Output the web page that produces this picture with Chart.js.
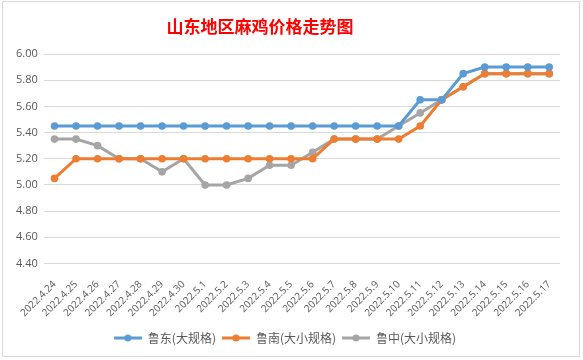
<!DOCTYPE html>
<html>
<head>
<meta charset="utf-8">
<script src="https://cdn.jsdelivr.net/npm/chart.js@4/dist/chart.umd.min.js"></script>
<style>
  html, body { margin: 0; padding: 0; background: #fff; }
  #wrap { position: relative; width: 583px; height: 360px; }
  #frame { position: absolute; left: 2px; top: 1px; width: 578px; height: 356px; border: 1px solid #d9d9d9; box-sizing: border-box; pointer-events: none; }
  #title { position: absolute; left: 0; top: 15px; width: 520px; text-align: center; color: #ff0000;
           font-family: "Noto Sans CJK SC", sans-serif; font-size: 17px; font-weight: bold; line-height: 22px; }
  canvas { position: absolute; left: 0; top: 0; }
</style>
</head>
<body>
<div id="wrap">
  <canvas id="chart" width="583" height="360"></canvas>
  <div id="frame"></div>
  <div id="title">山东地区麻鸡价格走势图</div>
</div>
<script>
const dates = ['2022.4.24', '2022.4.25', '2022.4.26', '2022.4.27', '2022.4.28', '2022.4.29', '2022.4.30',
  '2022.5.1', '2022.5.2', '2022.5.3', '2022.5.4', '2022.5.5', '2022.5.6', '2022.5.7', '2022.5.8',
  '2022.5.9', '2022.5.10', '2022.5.11', '2022.5.12', '2022.5.13', '2022.5.14', '2022.5.15', '2022.5.16', '2022.5.17'];

const ludong = [5.45, 5.45, 5.45, 5.45, 5.45, 5.45, 5.45, 5.45, 5.45, 5.45, 5.45, 5.45,
  5.45, 5.45, 5.45, 5.45, 5.45, 5.65, 5.65, 5.85, 5.90, 5.90, 5.90, 5.90];
const lunan = [5.05, 5.20, 5.20, 5.20, 5.20, 5.20, 5.20, 5.20, 5.20, 5.20, 5.20, 5.20,
  5.20, 5.35, 5.35, 5.35, 5.35, 5.45, 5.65, 5.75, 5.85, 5.85, 5.85, 5.85];
const luzhong = [5.35, 5.35, 5.30, 5.20, 5.20, 5.10, 5.20, 5.00, 5.00, 5.05, 5.15, 5.15,
  5.25, 5.35, 5.35, 5.35, 5.45, 5.55, 5.65, 5.75, 5.85, 5.85, 5.85, 5.85];

const seriesNames = ['鲁东(大规格)', '鲁南(大小规格)', '鲁中(大小规格)'];
const colors = ['#5b9bd5', '#ed7d31', '#a5a5a5'];

// little line-with-dot marker for the legend
function legendMarker(color) {
  const c = document.createElement('canvas');
  c.width = 28; c.height = 10;
  const g = c.getContext('2d');
  g.strokeStyle = color;
  g.lineWidth = 3;
  g.beginPath(); g.moveTo(0, 5); g.lineTo(28, 5); g.stroke();
  g.fillStyle = color;
  g.beginPath(); g.arc(14, 5, 3.5, 0, Math.PI * 2); g.fill();
  return c;
}

const datasets = [ludong, lunan, luzhong].map((vals, i) => ({
  label: seriesNames[i],
  data: vals,
  borderColor: colors[i],
  backgroundColor: colors[i],
  borderWidth: 3,
  pointRadius: 3.8,
  pointHoverRadius: 3.8,
  pointBorderWidth: 0,
  pointStyle: 'circle',
  tension: 0
}));

new Chart(document.getElementById('chart'), {
  type: 'line',
  data: { labels: dates, datasets: datasets },
  options: {
    responsive: false,
    animation: false,
    layout: { padding: { left: 10, right: 23, top: 54, bottom: 6 } },
    plugins: {
      title: { display: false },
      tooltip: { enabled: false },
      legend: {
        position: 'bottom',
        labels: {
          usePointStyle: true,
          pointStyleWidth: 28,
          color: '#595959',
          font: { family: '"Noto Sans CJK SC", sans-serif', size: 12 },
          padding: 6,
          generateLabels: (chart) => chart.data.datasets.map((ds, i) => ({
            text: ds.label,
            fillStyle: ds.borderColor,
            strokeStyle: ds.borderColor,
            pointStyle: legendMarker(ds.borderColor),
            fontColor: '#595959',
            lineWidth: 0,
            datasetIndex: i
          }))
        }
      }
    },
    scales: {
      x: {
        offset: true,
        grid: { display: false },
        border: { display: false },
        ticks: {
          color: '#595959',
          font: { family: '"Open Sans", sans-serif', size: 10 },
          minRotation: 45,
          maxRotation: 45,
          autoSkip: false,
          padding: 7
        }
      },
      y: {
        min: 4.4,
        max: 6.0,
        grid: { color: '#d9d9d9', lineWidth: 1, drawTicks: false },
        border: { display: false },
        ticks: {
          stepSize: 0.2,
          color: '#595959',
          font: { family: '"Open Sans", sans-serif', size: 11 },
          padding: 6,
          callback: (v) => v.toFixed(2)
        }
      }
    }
  }
});
</script>
</body>
</html>
